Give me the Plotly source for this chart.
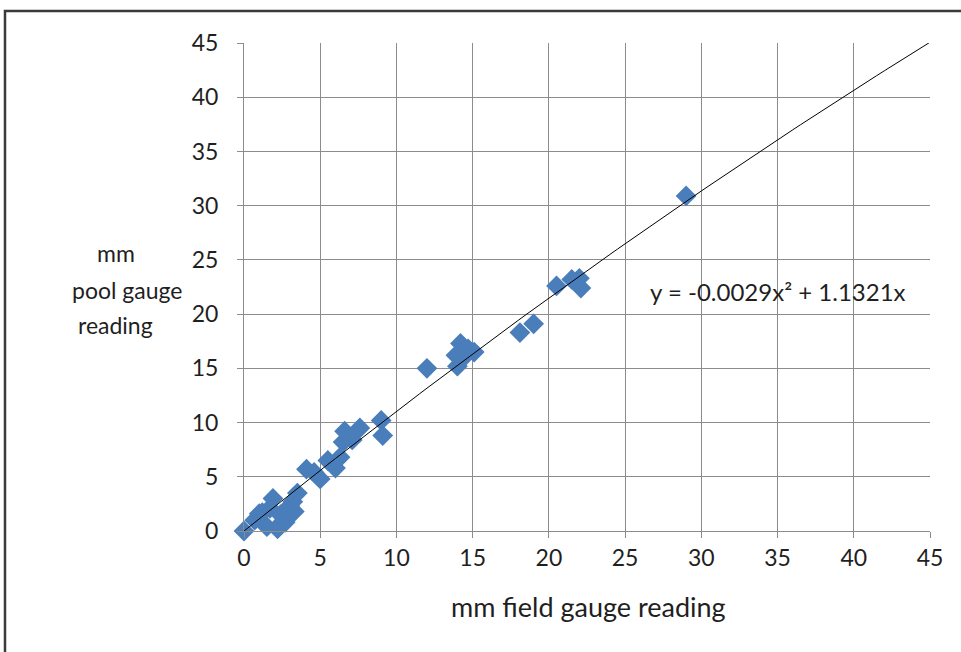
import numpy as np
import plotly.graph_objects as go

field_mm = [0.0, 0.7, 1.0, 1.2, 1.5, 1.7, 1.9, 2.2, 2.4, 2.5, 2.7, 3.0, 3.2, 3.3, 3.5,
            4.1, 4.6, 5.0, 5.5, 6.0, 6.3, 6.5, 6.6, 7.1, 7.6,
            9.0, 9.1,
            12.0, 14.0, 13.9, 14.2, 14.4, 14.7, 15.1,
            18.1, 19.0,
            20.5, 21.5, 22.0, 22.1,
            29.0]
pool_mm = [0.0, 1.0, 1.6, 1.7, 0.4, 2.1, 3.0, 0.2, 1.5, 0.8, 0.8, 2.3, 2.7, 1.8, 3.5,
           5.7, 5.4, 4.8, 6.5, 5.8, 6.8, 8.2, 9.2, 8.4, 9.5,
           10.2, 8.8,
           15.0, 15.2, 16.2, 17.3, 16.0, 16.8, 16.5,
           18.3, 19.1,
           22.6, 23.2, 23.3, 22.4,
           30.9]

# Polynomial trendline shown in the chart
coef_a = -0.0029
coef_b = 1.1321
trend_x = np.linspace(0, 45, 91)
trend_y = coef_a * trend_x ** 2 + coef_b * trend_x

tick_vals = [0, 5, 10, 15, 20, 25, 30, 35, 40, 45]
y_title_lines = ["mm", "pool gauge", "reading"]
x_title = "mm field gauge reading"
equation = "y = -0.0029x² + 1.1321x"

FONT = "Lato"
TXT = "#1f1f1f"
GRID = "#8c8c8c"

fig = go.Figure()
fig.add_trace(go.Scatter(
    x=field_mm, y=pool_mm, mode="markers",
    marker=dict(symbol="diamond", size=16, color="#4a7ebb",
                line=dict(width=0)),
    showlegend=False, cliponaxis=False))
fig.add_trace(go.Scatter(
    x=trend_x, y=trend_y, mode="lines",
    line=dict(color="black", width=1),
    showlegend=False))

axis_common = dict(
    range=[0, 45], tickvals=tick_vals, showgrid=True, gridcolor=GRID, gridwidth=1,
    zeroline=False, showline=True, linecolor=GRID, linewidth=1,
    ticks="outside", ticklen=6, tickcolor=GRID, mirror=False,
    tickfont=dict(family=FONT, size=23, color=TXT), fixedrange=True)

fig.update_xaxes(**axis_common)
fig.update_yaxes(**axis_common, ticklabelstandoff=14)

y_title_pos = [(-0.1866, 0.5697), (-0.1706, 0.4939), (-0.1866, 0.4221)]
annotations = [
    dict(text=x_title, xref="paper", yref="paper",
         x=0.5015, y=-0.1557, xanchor="center", yanchor="middle", showarrow=False,
         font=dict(family=FONT, size=27, color=TXT)),
    dict(text=equation, xref="x", yref="y",
         x=26.5, y=22.05, xanchor="left", yanchor="middle", showarrow=False,
         font=dict(family=FONT, size=24, color=TXT)),
]
for line, (px, py) in zip(y_title_lines, y_title_pos):
    annotations.append(dict(text=line, xref="paper", yref="paper", x=px, y=py,
                            xanchor="center", yanchor="middle", showarrow=False,
                            font=dict(family=FONT, size=23, color=TXT)))

fig.update_layout(
    width=961, height=652,
    margin=dict(l=244, r=31, t=43, b=121),
    paper_bgcolor="white", plot_bgcolor="white",
    font=dict(family=FONT, color=TXT),
    annotations=annotations,
    shapes=[
        dict(type="rect", xref="paper", yref="paper",
             x0=-0.3484, x1=1.08, y0=-0.3, y1=1.0656,
             line=dict(color="#3a3a3a", width=2.5), layer="above"),
    ],
)

fig.write_html("out.html")
